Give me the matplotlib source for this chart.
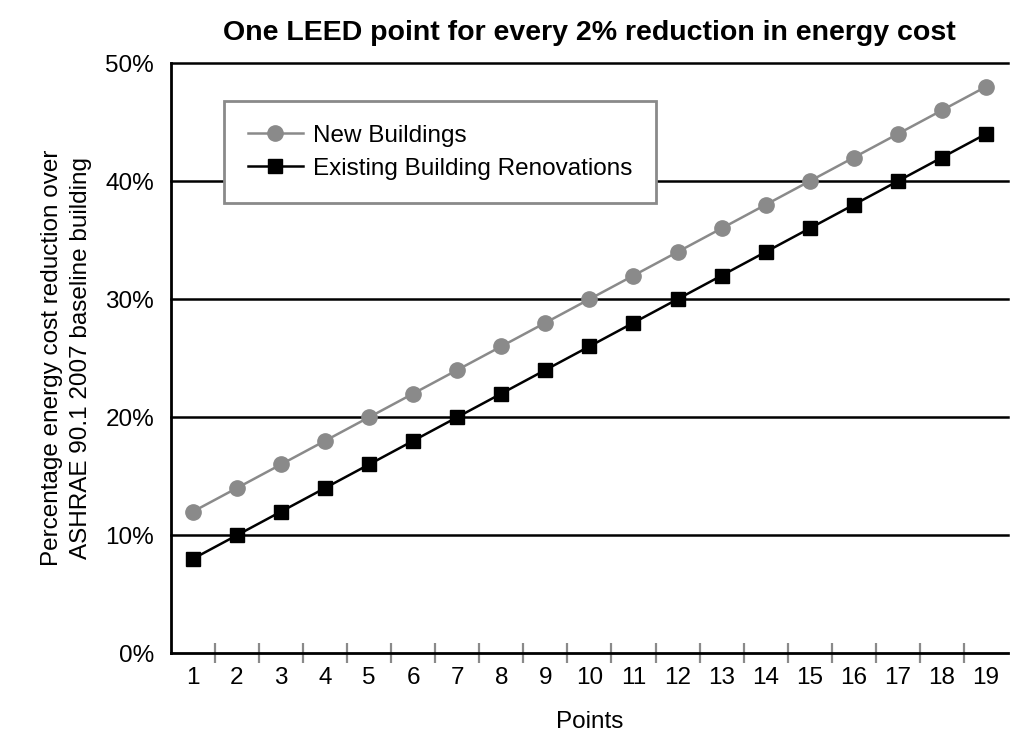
import matplotlib
matplotlib.use("Agg")
import matplotlib.pyplot as plt
from matplotlib.ticker import FixedLocator, PercentFormatter

plt.rcParams['font.family'] = ['Liberation Sans', 'DejaVu Sans']

# Data
points = list(range(1, 20))
new_buildings = [12, 14, 16, 18, 20, 22, 24, 26, 28, 30, 32, 34, 36, 38, 40, 42, 44, 46, 48]
existing_renov = [8, 10, 12, 14, 16, 18, 20, 22, 24, 26, 28, 30, 32, 34, 36, 38, 40, 42, 44]

fig = plt.figure(figsize=(10.11, 7.34), dpi=100)
ax = fig.add_axes([0.169, 0.110, 0.828, 0.804])

# Horizontal gridlines (black, full width)
for yv in [10, 20, 30, 40, 50]:
    ax.axhline(yv, color="black", lw=1.8, zorder=1, clip_on=False)

ax.plot(points, new_buildings, color="#8a8a8a", lw=1.8, marker="o", ms=11,
        label="New Buildings", zorder=3)
ax.plot(points, existing_renov, color="black", lw=1.8, marker="s", ms=10.5,
        label="Existing Building Renovations", zorder=3)

ax.set_xlim(0.5, 19.5)
ax.set_ylim(0, 50)

for s in ["top", "right"]:
    ax.spines[s].set_visible(False)
ax.spines["left"].set_linewidth(2)
ax.spines["bottom"].set_linewidth(2)

# Category labels, with tick marks between categories
ax.set_xticks(points)
ax.set_xticklabels([str(p) for p in points])
ax.tick_params(axis="x", which="major", length=0, labelsize=17.5, pad=10)
ax.xaxis.set_minor_locator(FixedLocator([p + 0.5 for p in points[:-1]]))
ax.tick_params(axis="x", which="minor", direction="inout", length=15, width=1.6, color="#8a8a8a")

ax.set_yticks([0, 10, 20, 30, 40, 50])
ax.yaxis.set_major_formatter(PercentFormatter(decimals=0))
ax.tick_params(axis="y", length=0, labelsize=17.5, pad=12)

ax.set_xlabel("Points", fontsize=17.5, labelpad=16)
ax.set_ylabel("Percentage energy cost reduction over\nASHRAE 90.1 2007 baseline building",
              fontsize=17.5, labelpad=10, linespacing=1.4)
ax.set_title("One LEED point for every 2% reduction in energy cost",
             fontsize=20.5, fontweight="bold", pad=17)

leg = ax.legend(loc="upper left", bbox_to_anchor=(0.064, 0.935), fontsize=17.5,
                frameon=True, fancybox=False, borderpad=0.95, handlelength=2.3,
                handletextpad=0.4, labelspacing=0.45, borderaxespad=0)
leg.get_frame().set_edgecolor("#8a8a8a")
leg.get_frame().set_linewidth(2)
leg.get_frame().set_alpha(1)

fig.savefig("out.png", dpi=100)
